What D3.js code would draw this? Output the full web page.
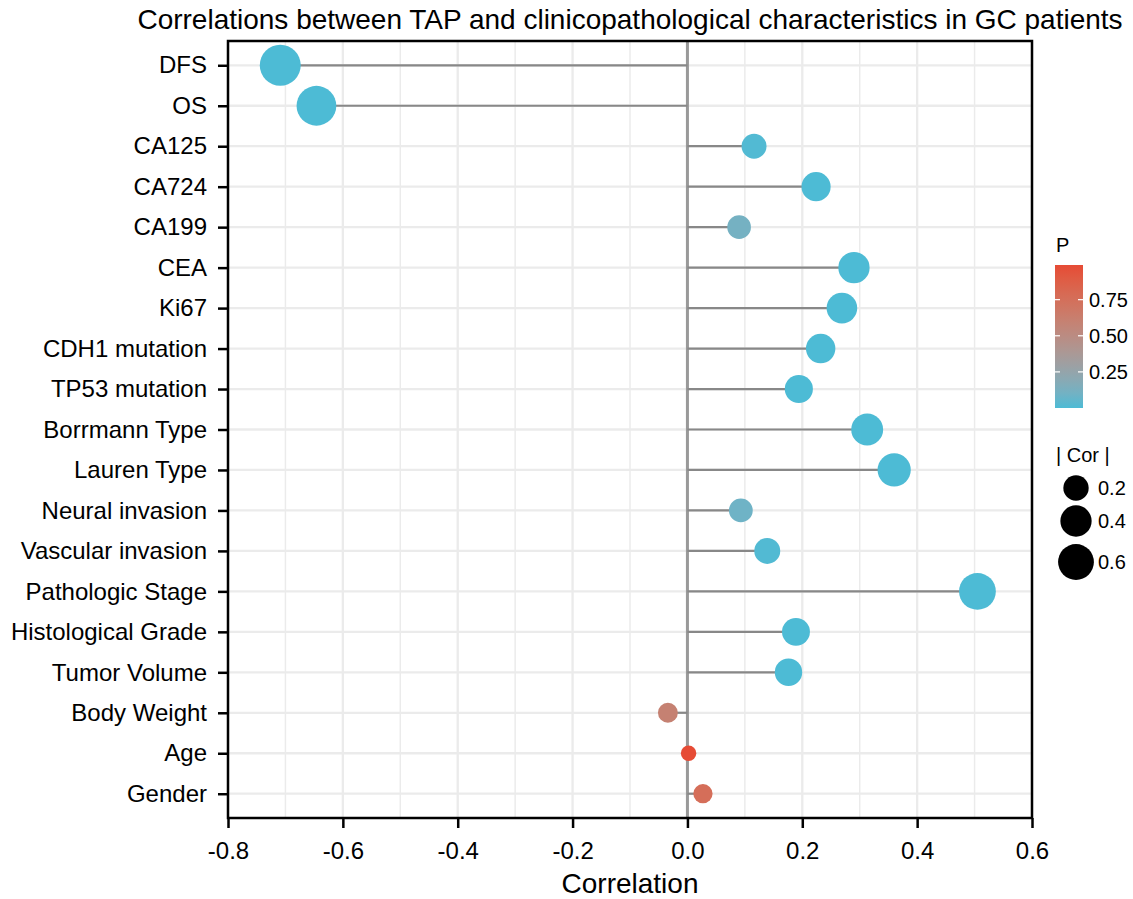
<!DOCTYPE html>
<html>
<head>
<meta charset="utf-8">
<script src="https://cdn.jsdelivr.net/npm/d3@7"></script>
<style>
  body { margin: 0; background: #fff; }
  text { font-family: "Liberation Sans", Arial, sans-serif; fill: #000; }
</style>
</head>
<body>
<svg id="chart" width="1133" height="899"></svg>
<script>
// data, top row first
const traits = ["DFS", "OS", "CA125", "CA724", "CA199", "CEA", "Ki67", "CDH1 mutation",
  "TP53 mutation", "Borrmann Type", "Lauren Type", "Neural invasion", "Vascular invasion",
  "Pathologic Stage", "Histological Grade", "Tumor Volume", "Body Weight", "Age", "Gender"]
const cors = [-0.709, -0.646, 0.116, 0.224, 0.09, 0.29, 0.269, 0.232,
  0.194, 0.313, 0.36, 0.093, 0.139, 0.505, 0.189, 0.176, -0.034, 0.002, 0.027]
const pvals = [0.0, 0.0, 0.01, 0.0, 0.11, 0.0, 0.0, 0.0,
  0.0, 0.0, 0.0, 0.09, 0.01, 0.0, 0.0, 0.0, 0.6, 0.99, 0.76]
const xTicks = [-0.8, -0.6, -0.4, -0.2, 0.0, 0.2, 0.4, 0.6]
const xMinor = [-0.7, -0.5, -0.3, -0.1, 0.1, 0.3, 0.5]
const pTicks = [0.25, 0.5, 0.75]
const sizeTicks = [0.2, 0.4, 0.6]

const svg = d3.select("#chart")
const pLeft = 228, pRight = 1032, pTop = 41, pBottom = 818

const x = d3.scaleLinear().domain([-0.8, 0.6]).range([pLeft, pRight])
const y = d3.scalePoint().domain(traits).range([pTop, pBottom]).padding(0.6)
const color = d3.scaleLinear().domain([0, 0.99]).range(["#4DBBD5", "#E64B35"])
  .interpolate(d3.interpolateLab)
const rad = d3.scaleSqrt().domain([0, 0.71]).range([0, 13.5])
const radius = v => 7 + rad(v)

// title
svg.append("text").attr("x", (pLeft + pRight) / 2).attr("y", 29)
  .attr("text-anchor", "middle").style("font-size", "28px")
  .text("Correlations between TAP and clinicopathological characteristics in GC patients")

// grid
const grid = svg.append("g")
grid.selectAll(".minor").data(xMinor).join("line")
  .attr("x1", d => x(d)).attr("x2", d => x(d)).attr("y1", pTop).attr("y2", pBottom)
  .attr("stroke", "#ebebeb").attr("stroke-width", 1.5)
grid.selectAll(".major").data(xTicks).join("line")
  .attr("x1", d => x(d)).attr("x2", d => x(d)).attr("y1", pTop).attr("y2", pBottom)
  .attr("stroke", "#ebebeb").attr("stroke-width", 2.3)
grid.selectAll(".hrow").data(traits).join("line")
  .attr("x1", pLeft).attr("x2", pRight).attr("y1", d => y(d)).attr("y2", d => y(d))
  .attr("stroke", "#ebebeb").attr("stroke-width", 2.3)

// zero line
svg.append("line").attr("x1", x(0)).attr("x2", x(0)).attr("y1", pTop).attr("y2", pBottom)
  .attr("stroke", "#999").attr("stroke-width", 3)

// lollipop sticks
svg.append("g").selectAll("line").data(traits).join("line")
  .attr("x1", x(0)).attr("x2", (d, i) => x(cors[i]))
  .attr("y1", d => y(d)).attr("y2", d => y(d))
  .attr("stroke", "#888").attr("stroke-width", 2.2)

// points
svg.append("g").selectAll("circle").data(traits).join("circle")
  .attr("cx", (d, i) => x(cors[i])).attr("cy", d => y(d))
  .attr("r", (d, i) => radius(Math.abs(cors[i])))
  .attr("fill", (d, i) => color(pvals[i]))

// panel border
svg.append("rect").attr("x", pLeft).attr("y", pTop)
  .attr("width", pRight - pLeft).attr("height", pBottom - pTop)
  .attr("fill", "none").attr("stroke", "#000").attr("stroke-width", 2.5)

// axes
const xAxis = svg.append("g").attr("transform", `translate(0,${pBottom})`)
  .call(d3.axisBottom(x).tickValues(xTicks).tickFormat(d => d3.format(".1f")(d).replace("−", "-")).tickSize(10))
xAxis.select(".domain").remove()
xAxis.selectAll("line").attr("stroke-width", 2.5)
xAxis.selectAll("text").style("font-size", "24px").attr("y", 41).attr("dy", 0)

const yAxis = svg.append("g").attr("transform", `translate(${pLeft},0)`)
  .call(d3.axisLeft(y).tickSize(10).tickPadding(11))
yAxis.select(".domain").remove()
yAxis.selectAll("line").attr("stroke-width", 2.5)
yAxis.selectAll("text").style("font-size", "24px")

svg.append("text").attr("x", (pLeft + pRight) / 2).attr("y", 893)
  .attr("text-anchor", "middle").style("font-size", "28px").text("Correlation")

// colour legend
const barX = 1055, barW = 28, barTop = 265, barBot = 408
const pScale = d3.scaleLinear().domain([0, 0.99]).range([barBot, barTop])
const defs = svg.append("defs")
const grad = defs.append("linearGradient").attr("id", "pgrad")
  .attr("x1", 0).attr("x2", 0).attr("y1", 1).attr("y2", 0)
d3.range(0, 1.0001, 0.1).forEach(t => {
  grad.append("stop").attr("offset", t).attr("stop-color", color(t * 0.99))
})
svg.append("text").attr("x", 1056).attr("y", 252).style("font-size", "20px").text("P")
svg.append("rect").attr("x", barX).attr("y", barTop).attr("width", barW)
  .attr("height", barBot - barTop).attr("fill", "url(#pgrad)")
pTicks.forEach(p => {
  svg.append("line").attr("x1", barX).attr("x2", barX + 5).attr("y1", pScale(p)).attr("y2", pScale(p))
    .attr("stroke", "#fff").attr("stroke-width", 1.2)
  svg.append("line").attr("x1", barX + barW - 5).attr("x2", barX + barW).attr("y1", pScale(p)).attr("y2", pScale(p))
    .attr("stroke", "#fff").attr("stroke-width", 1.2)
  svg.append("text").attr("x", barX + barW + 6).attr("y", pScale(p)).attr("dy", "0.36em")
    .style("font-size", "20px").text(d3.format(".2f")(p))
})

// size legend
svg.append("text").attr("x", 1056).attr("y", 462).style("font-size", "20px").text("| Cor |")
const sizeY = d3.scaleOrdinal().domain(sizeTicks).range([488, 521, 562])
sizeTicks.forEach(s => {
  svg.append("circle").attr("cx", 1076).attr("cy", sizeY(s)).attr("r", radius(s) - 1.5).attr("fill", "#000")
  svg.append("text").attr("x", 1098).attr("y", sizeY(s)).attr("dy", "0.36em")
    .style("font-size", "20px").text(s)
})
</script>
</body>
</html>
